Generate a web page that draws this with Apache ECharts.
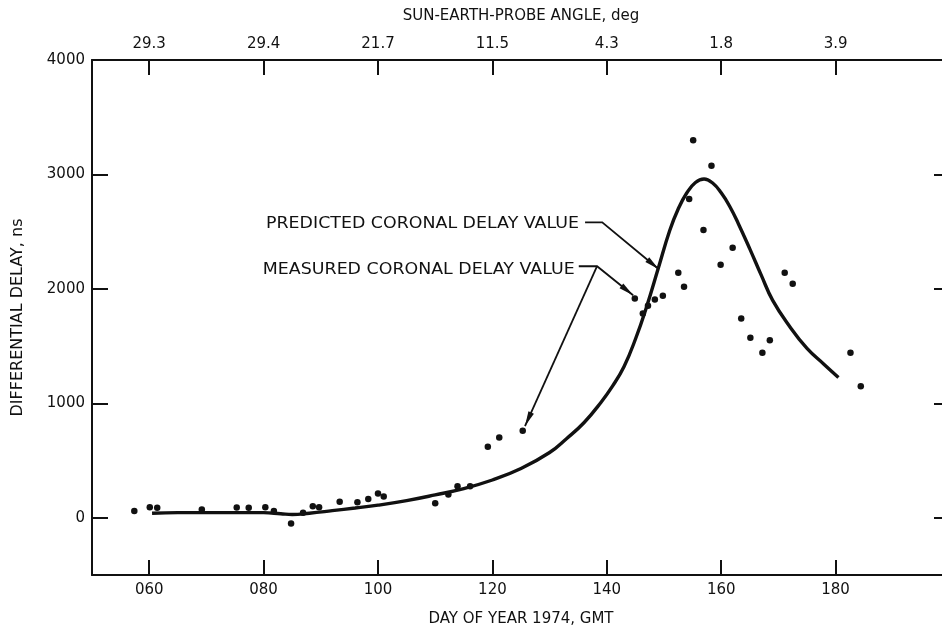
<!DOCTYPE html>
<html><head><meta charset="utf-8">
<script src="https://cdn.jsdelivr.net/npm/echarts@6/dist/echarts.min.js"></script>
<style>html,body{margin:0;padding:0;background:#fff}#c{width:942px;height:632px}</style>
</head><body><div id="c"></div>
<script>
// ---- data ----
const measuredDays   = [57.4, 60.1, 61.4, 69.2, 75.3, 77.4, 80.3, 81.8, 84.8, 86.9, 88.6, 89.7, 93.3, 96.4, 98.3, 100.0, 101.0, 110.0, 112.3, 113.9, 116.1, 119.2, 121.2, 125.3, 144.9, 146.3, 147.2, 148.4, 149.8, 152.5, 153.5, 154.4, 155.1, 156.9, 158.3, 159.9, 162.0, 163.5, 165.1, 167.2, 168.5, 171.1, 172.5, 182.6, 184.4];
const measuredValues = [60, 93, 87, 72, 90, 87, 93, 60, -50, 45, 100, 93, 140, 136, 163, 212, 186, 128, 204, 276, 276, 620, 702, 760, 1917, 1786, 1852, 1908, 1940, 2141, 2018, 2785, 3298, 2514, 3076, 2211, 2359, 1742, 1573, 1442, 1552, 2141, 2045, 1442, 1150];
const predictedDays   = [60.5, 65, 70, 75, 80, 83, 85, 88, 92, 96, 100, 105, 110, 115, 120, 125, 130, 133, 136, 139, 141, 143, 145, 147, 149, 151, 152.5, 154, 155.5, 157, 158.5, 160, 161.5, 163, 165, 167, 169, 172, 175, 178, 180.5];
const predictedValues = [40, 45, 45, 45, 45, 35, 28, 40, 62, 85, 110, 150, 200, 255, 330, 430, 570, 693, 830, 1010, 1150, 1320, 1560, 1850, 2180, 2510, 2700, 2840, 2930, 2960, 2925, 2840, 2720, 2570, 2350, 2120, 1900, 1670, 1480, 1340, 1226];
const dayTicks       = [60, 80, 100, 120, 140, 160, 180];
const dayTickLabels  = ['060', '080', '100', '120', '140', '160', '180'];
const angleTickLabels = ['29.3', '29.4', '21.7', '11.5', '4.3', '1.8', '3.9'];
const delayTicks     = [0, 1000, 2000, 3000, 4000];
const delayTickMarks = [0, 1000, 2000, 3000];

const FONT = 'DejaVu Sans';
const INK = '#111';

const chart = echarts.init(document.getElementById('c'), null, {renderer: 'canvas'});

const axisLine = {show: true, onZero: false, lineStyle: {color: INK, width: 2}};
function xAxisDef(pos, labels, name) {
  return {
    type: 'value', position: pos, min: 50, max: 200,
    axisLine: axisLine,
    axisTick: {show: true, inside: true, length: 15, lineStyle: {color: INK, width: 2}, customValues: dayTicks},
    axisLabel: {show: true, customValues: dayTicks, margin: 8, color: INK, fontFamily: FONT, fontSize: 15,
      formatter: v => labels[dayTicks.indexOf(v)] || ''},
    splitLine: {show: false},
    name: name, nameLocation: 'middle', nameGap: pos === 'top' ? 36 : 37,
    nameTextStyle: {color: INK, fontFamily: FONT, fontSize: 15}
  };
}

chart.setOption({
  animation: false,
  backgroundColor: '#fff',
  grid: {left: 92, right: -8, top: 60, bottom: 57, containLabel: false, outerBoundsMode: 'none'},
  xAxis: [
    xAxisDef('bottom', dayTickLabels, 'DAY OF YEAR 1974, GMT'),
    xAxisDef('top', angleTickLabels, 'SUN-EARTH-PROBE ANGLE, deg')
  ],
  yAxis: [
    {type: 'value', position: 'left', min: -500, max: 4000,
     axisLine: axisLine,
     axisTick: {show: true, inside: true, length: 16, lineStyle: {color: INK, width: 2}, customValues: delayTickMarks},
     axisLabel: {show: true, customValues: delayTicks, margin: 7, color: INK, fontFamily: FONT, fontSize: 15,
       formatter: v => String(v)},
     splitLine: {show: false},
     name: 'DIFFERENTIAL DELAY, ns', nameLocation: 'middle', nameGap: 66,
     nameTextStyle: {color: INK, fontFamily: FONT, fontSize: 16}},
    {type: 'value', position: 'right', min: -500, max: 4000,
     axisLine: axisLine,
     axisTick: {show: true, inside: true, length: 16, lineStyle: {color: INK, width: 2}, customValues: delayTickMarks},
     axisLabel: {show: false}, splitLine: {show: false}}
  ],
  series: [
    {type: 'line', name: 'Predicted', xAxisIndex: 0, yAxisIndex: 0,
     data: predictedDays.map((d, i) => [d, predictedValues[i]]),
     showSymbol: false, smooth: 0.45, lineStyle: {color: INK, width: 3.4}, z: 2},
    {type: 'scatter', name: 'Measured', xAxisIndex: 0, yAxisIndex: 0,
     data: measuredDays.map((d, i) => [d, measuredValues[i]]),
     symbol: 'circle', symbolSize: 6.5, itemStyle: {color: INK, opacity: 1}, z: 3}
  ]
});

// ---- annotations (anchored in data coordinates) ----
const px = p => chart.convertToPixel({xAxisIndex: 0, yAxisIndex: 0}, p);
function arrowHead(from, tip, len, wid) {
  const dx = tip[0] - from[0], dy = tip[1] - from[1];
  const L = Math.hypot(dx, dy); const ux = dx / L, uy = dy / L;
  const bx = tip[0] - ux * len, by = tip[1] - uy * len;
  const nx = -uy * wid / 2, ny = ux * wid / 2;
  return {type: 'polygon', shape: {points: [tip, [bx + nx, by + ny], [bx - nx, by - ny]]},
    style: {fill: INK}, z: 10};
}
function leader(points) {
  return {type: 'polyline', shape: {points: points}, style: {stroke: INK, lineWidth: 1.8, fill: null}, z: 10};
}
const pStart = px([136.2, 2581]), pBend = px([139.2, 2581]), pTip = px([149.1, 2172]);
const mStart = px([135.1, 2198]), mBend = px([138.3, 2198]), mTip1 = px([144.6, 1945]), mTip2 = px([125.7, 801]);
const textStyle = {fill: INK, fontFamily: FONT, fontSize: 15, textAlign: 'right', textVerticalAlign: 'middle'};
chart.setOption({graphic: [
  {type: 'text', x: pStart[0] - 6, y: pStart[1] + 2, scaleX: 1.16, style: Object.assign({text: 'PREDICTED CORONAL DELAY VALUE'}, textStyle), z: 10},
  {type: 'text', x: mStart[0] - 4, y: mStart[1] + 4, scaleX: 1.16, style: Object.assign({text: 'MEASURED CORONAL DELAY VALUE'}, textStyle), z: 10},
  leader([pStart, pBend, pTip]),
  arrowHead(pBend, pTip, 15, 6),
  leader([mStart, mBend, mTip1]),
  arrowHead(mBend, mTip1, 15, 6),
  leader([mBend, mTip2]),
  arrowHead(mBend, mTip2, 15, 6)
]});
</script>
</body></html>
